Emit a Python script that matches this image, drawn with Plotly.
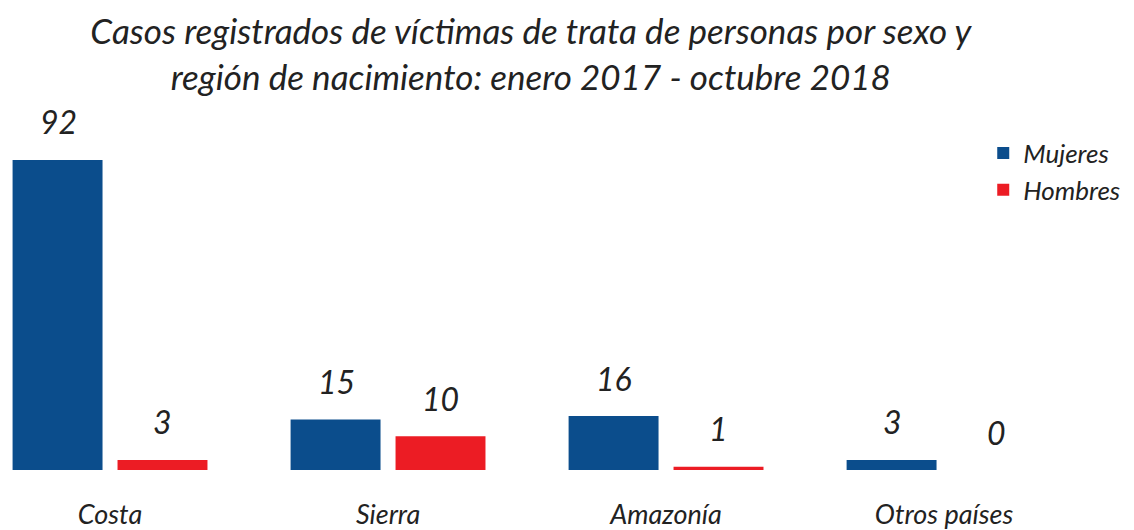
import plotly.graph_objects as go

categories = ["Costa", "Sierra", "Amazonía", "Otros países"]
mujeres = [92, 15, 16, 3]
hombres = [3, 10, 1, 0]
series_names = ["Mujeres", "Hombres"]
title_text = "Casos registrados de víctimas de trata de personas por sexo y<br>región de nacimiento: enero 2017 - octubre 2018"

BLUE = "#0B4D8C"
RED = "#EC1C24"
TXT = "#222222"
FONT = "Lato"

fig = go.Figure()
fig.add_trace(go.Bar(x=categories, y=mujeres, name=f"<i>{series_names[0]}</i>", marker_color=BLUE,
                     marker_line_width=0, hoverinfo="skip"))
fig.add_trace(go.Bar(x=categories, y=hombres, name=f"<i>{series_names[1]}</i>", marker_color=RED,
                     marker_line_width=0, hoverinfo="skip"))

annotations = []
for vals, shift in ((mujeres, -52), (hombres, 52)):
    for c, v in zip(categories, vals):
        annotations.append(dict(x=c, y=v, xref="x", yref="y", text=f"<i>{v}</i>",
                                showarrow=False, xshift=shift, yshift=38,
                                font=dict(family=FONT, size=32, color=TXT)))

fig.update_layout(
    width=1134, height=530,
    margin=dict(l=0, r=0, t=92, b=68),
    paper_bgcolor="white", plot_bgcolor="white",
    barmode="group", bargap=0.245, bargroupgap=0.143,
    title=dict(text=f"<i>{title_text}</i>", x=0.461, xanchor="center", y=0.932, yanchor="middle",
               font=dict(family=FONT, size=35, color=TXT)),
    font=dict(family=FONT, color=TXT),
    legend=dict(x=0.86, y=0.92, xanchor="left", yanchor="top", bgcolor="rgba(0,0,0,0)",
                font=dict(family=FONT, size=26, color=TXT), itemwidth=30),
    xaxis=dict(range=[-0.367, 3.712], showgrid=False, zeroline=False, showline=False,
               ticks="", tickfont=dict(family=FONT, size=27, color=TXT), ticklabelstandoff=26,
               tickmode="array", tickvals=categories,
               ticktext=[f"<i>{c}</i>" for c in categories]),
    yaxis=dict(range=[0, 109.8], visible=False),
    annotations=annotations,
    showlegend=True,
)

fig.write_html("out.html")
